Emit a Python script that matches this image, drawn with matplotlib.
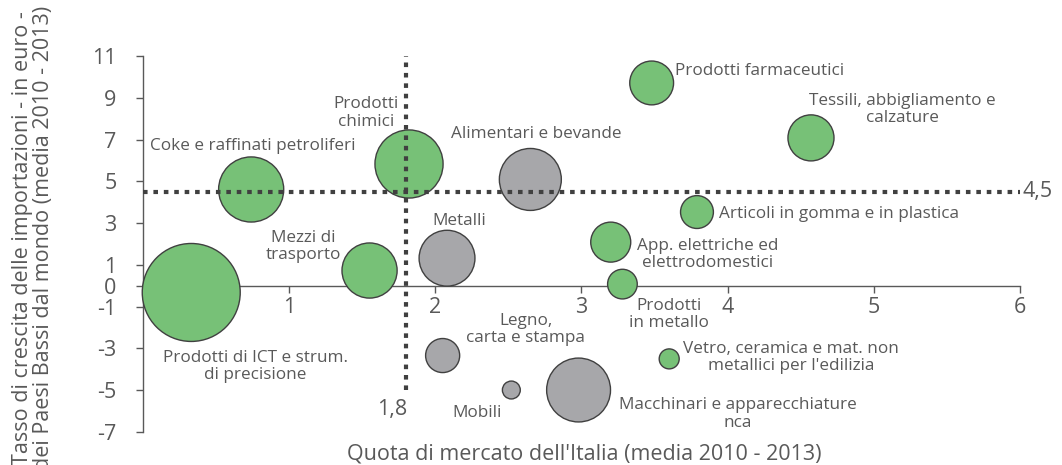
import matplotlib
matplotlib.use("Agg")
import matplotlib.pyplot as plt

# ---- data ----
settori = [
    "Prodotti di ICT e strum.\ndi precisione",
    "Mezzi di\ntrasporto",
    "Metalli",
    "Legno,\ncarta e stampa",
    "Mobili",
    "Macchinari e apparecchiature\nnca",
    "Vetro, ceramica e mat. non\nmetallici per l'edilizia",
    "Prodotti\nin metallo",
    "App. elettriche ed\nelettrodomestici",
    "Articoli in gomma e in plastica",
    "Tessili, abbigliamento e\ncalzature",
    "Prodotti farmaceutici",
    "Alimentari e bevande",
    "Prodotti\nchimici",
    "Coke e raffinati petroliferi",
]
quota_mercato = [0.33, 1.55, 2.08, 2.05, 2.52, 2.98, 3.60, 3.28, 3.20, 3.79, 4.57, 3.48, 2.65, 1.82, 0.74]
crescita_import = [-0.32, 0.73, 1.32, -3.34, -4.99, -4.99, -3.50, 0.08, 2.09, 3.53, 7.08, 9.71, 5.09, 5.83, 4.61]
peso = [240, 76, 78, 29, 8, 102, 10, 22, 40, 27, 53, 48, 96, 116, 106]
gruppo = ["v", "v", "g", "g", "g", "g", "v", "v", "v", "v", "v", "v", "g", "v", "v"]

soglia_quota = 1.8
soglia_crescita = 4.5
x_ticks = [1, 2, 3, 4, 5, 6]
y_ticks = [11, 9, 7, 5, 3, 1, 0, -1, -3, -5, -7]
x_label = "Quota di mercato dell'Italia (media 2010 - 2013)"
y_label = "Tasso di crescita delle importazioni - in euro -\ndei Paesi Bassi dal mondo (media 2010 - 2013)"

# ---- layout (label offsets in pixels: dx, dy, ha) ----
label_layout = [
    (64, -74, "center"),
    (-66, 24, "center"),
    (12, 37, "center"),
    (83, 26, "center"),
    (-34, -23, "center"),
    (159, -24, "center"),
    (122, 1, "center"),
    (47, -30, "center"),
    (97, -12, "center"),
    (22, -2, "left"),
    (91, 28, "center"),
    (23, 12, "left"),
    (6, 45, "center"),
    (-43, 51, "center"),
    (2, 43, "center"),
]

colori = {"v": "#77C177", "g": "#A7A7AA"}
testo = "#595959"

plt.rcParams["font.family"] = ["Open Sans", "DejaVu Sans"]

fig = plt.figure(figsize=(10.62, 4.65), dpi=100)
ax = fig.add_axes([143 / 1062, 1 - 432 / 465, (1020 - 143) / 1062, (432 - 56) / 465])

ax.set_xlim(0, 6)
ax.set_ylim(-7, 11)

sizes = [p * 10 * 4 * 0.72 ** 2 for p in peso]
ax.scatter(quota_mercato, crescita_import, s=sizes,
           c=[colori[g] for g in gruppo], edgecolors="#404040",
           linewidths=1.0, zorder=3, clip_on=False)

for name, x, y, (dx, dy, ha) in zip(settori, quota_mercato, crescita_import, label_layout):
    ax.annotate(name, (x, y), xytext=(dx, dy), textcoords="offset pixels",
                ha=ha, va="center", multialignment="center", fontsize=12.3,
                color=testo, linespacing=1.1, zorder=5)

# reference lines
ax.plot([soglia_quota, soglia_quota], [-5, 11], color="#404040", lw=3,
        dashes=(1.1, 1.4), dash_capstyle="butt", zorder=4, clip_on=False)
ax.plot([0, 6], [soglia_crescita, soglia_crescita], color="#404040", lw=3,
        dashes=(1.1, 1.4), dash_capstyle="butt", zorder=4, clip_on=False)
ax.annotate("4,5", (6, soglia_crescita), xytext=(3, 0), textcoords="offset pixels",
            ha="left", va="center", fontsize=15.5, color=testo)
ax.annotate("1,8", (soglia_quota, -5), xytext=(-14, -19), textcoords="offset pixels",
            ha="center", va="center", fontsize=15.5, color=testo)

# axes styling
for s in ["top", "right"]:
    ax.spines[s].set_visible(False)
ax.spines["bottom"].set_position(("data", 0))
for s in ["left", "bottom"]:
    ax.spines[s].set_color("#595959")
    ax.spines[s].set_linewidth(1.0)

ax.set_xticks(x_ticks)
ax.set_xticklabels([str(t) for t in x_ticks])
ax.set_yticks(y_ticks)
ax.set_yticklabels([str(t) for t in y_ticks])
ax.tick_params(axis="both", colors="#595959", labelcolor=testo, labelsize=15.5,
               length=5, width=1.0, direction="out")
ax.tick_params(axis="y", pad=14)
ax.tick_params(axis="x", pad=3)

fig.text(584 / 1062, 1 - 454 / 465, x_label, ha="center", va="center",
         fontsize=15.5, color=testo)
fig.text(33 / 1062, 1 - 238 / 465, y_label, ha="center", va="center",
         rotation=90, fontsize=15.5, color=testo, linespacing=1.05)

fig.savefig("out.png", dpi=100)
